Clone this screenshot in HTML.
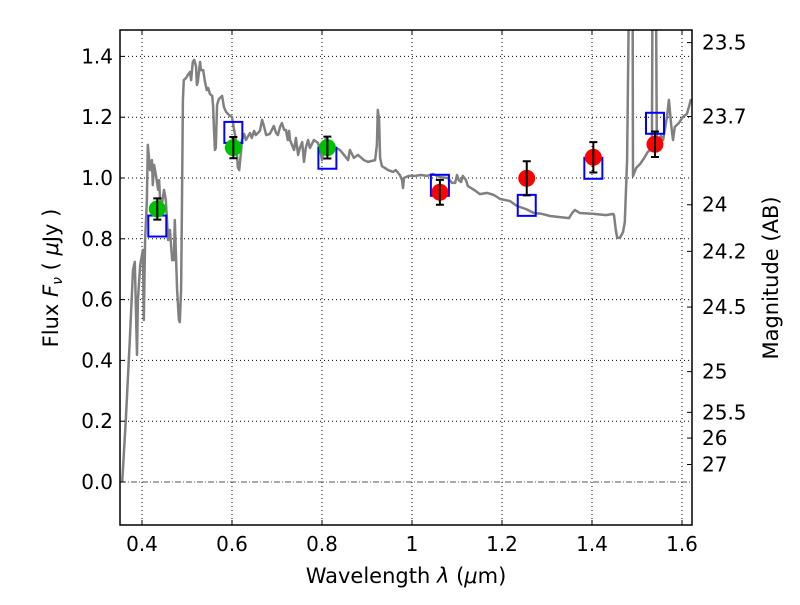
<!DOCTYPE html>
<html><head><meta charset="utf-8"><style>
body{margin:0;background:#fff;}
svg text{font-family:"DejaVu Sans","Liberation Sans",sans-serif;}
</style></head><body>
<svg id="chart" width="800" height="600" xmlns="http://www.w3.org/2000/svg">
<rect width="800" height="600" fill="#fff"/>
<g id="grid"></g>
<g id="plot"></g>
<g id="axes"></g>
<text x="406" y="583" font-size="21" text-anchor="middle">Wavelength  <tspan font-style="italic">λ</tspan> (<tspan font-style="italic">μ</tspan>m)</text>
<text transform="translate(58,278) rotate(-90)" font-size="21" text-anchor="middle">Flux  <tspan font-style="italic">F<tspan font-size="14" dy="4">ν</tspan></tspan><tspan dy="-4">  ( <tspan font-style="italic">μ</tspan>Jy )</tspan></text>
<text transform="translate(778,278) rotate(-90)" font-size="21" text-anchor="middle">Magnitude (AB)</text>
</svg>
<script>
const specW=[0.356,0.364,0.373,0.380,0.384,0.389,0.391,0.396,0.402,0.404,0.407,0.411,0.413,0.418,0.422,0.424,0.427,0.431,0.436,0.438,0.442,0.444,0.449,0.453,0.458,0.462,0.467,0.471,0.473,0.478,0.482,0.484,0.487,0.489,0.491,0.493,0.498,0.502,0.507,0.509,0.513,0.516,0.520,0.522,0.524,0.529,0.531,0.536,0.540,0.544,0.547,0.551,0.556,0.558,0.560,0.562,0.564,0.567,0.571,0.578,0.582,0.587,0.596,0.600,0.604,0.609,0.613,0.616,0.620,0.622,0.627,0.631,0.640,0.644,0.649,0.653,0.662,0.667,0.671,0.676,0.684,0.693,0.698,0.702,0.707,0.711,0.716,0.720,0.724,0.727,0.729,0.738,0.742,0.747,0.751,0.756,0.760,0.764,0.769,0.773,0.782,0.791,0.796,0.800,0.804,0.809,0.813,0.822,0.831,0.840,0.849,0.858,0.862,0.871,0.880,0.893,0.902,0.918,0.922,0.924,0.927,0.929,0.933,0.947,0.958,0.964,0.973,0.978,0.980,0.982,0.993,1.007,1.020,1.033,1.047,1.062,1.080,1.089,1.096,1.100,1.104,1.109,1.113,1.120,1.124,1.138,1.151,1.167,1.182,1.196,1.218,1.233,1.253,1.271,1.289,1.307,1.324,1.349,1.356,1.362,1.373,1.404,1.431,1.447,1.449,1.453,1.456,1.462,1.469,1.473,1.478,1.480,1.482,1.484,1.489,1.491,1.498,1.507,1.516,1.524,1.529,1.533,1.536,1.540,1.544,1.549,1.553,1.558,1.567,1.571,1.576,1.580,1.584,1.593,1.602,1.611,1.616,1.620];
const specF=[0.00,0.204,0.467,0.697,0.724,0.418,0.599,0.714,0.763,0.533,0.796,0.928,1.109,1.026,1.059,0.977,1.043,1.010,0.961,0.993,0.878,0.911,0.961,0.928,0.796,0.829,0.730,0.730,0.862,0.632,0.533,0.526,0.632,0.928,1.257,1.322,1.329,1.339,1.349,1.322,1.382,1.388,1.368,1.306,1.316,1.382,1.355,1.355,1.316,1.289,1.296,1.276,1.270,1.237,1.158,1.092,1.099,1.241,1.260,1.270,1.234,1.217,1.204,1.201,1.164,1.125,1.036,1.026,1.086,1.125,1.145,1.125,1.148,1.132,1.155,1.141,1.155,1.191,1.171,1.141,1.145,1.171,1.148,1.141,1.168,1.181,1.158,1.158,1.125,1.155,1.125,1.092,1.132,1.076,1.099,1.118,1.053,1.099,1.125,1.099,1.125,1.115,1.092,1.059,1.092,1.135,1.076,1.099,1.099,1.092,1.076,1.059,1.092,1.066,1.076,1.059,1.053,1.059,1.109,1.224,1.191,1.066,1.039,1.026,1.020,1.026,1.010,0.993,0.967,1.000,1.007,1.007,1.010,1.007,1.013,1.003,1.000,0.984,0.984,1.010,0.993,0.987,1.007,0.993,0.974,0.961,0.947,0.951,0.944,0.931,0.924,0.908,0.898,0.885,0.882,0.875,0.872,0.868,0.885,0.895,0.885,0.882,0.878,0.882,0.878,0.829,0.803,0.803,0.822,0.855,1.059,1.322,1.586,2.5,2.5,1.006,1.033,1.046,1.066,1.086,1.092,1.102,2.2,2.2,1.12,1.132,1.138,1.125,1.204,1.257,1.174,1.125,1.168,1.181,1.201,1.211,1.237,1.260];
const obsW=[0.434,0.603,0.812,1.062,1.255,1.403,1.540];
const obsF=[0.898,1.100,1.100,0.953,0.999,1.068,1.111];
const obsErr=[0.035,0.035,0.036,0.041,0.056,0.050,0.042];
const obsColor=["#00c000","#00c000","#00c000","#ff0000","#ff0000","#ff0000","#ff0000"];
const modelF=[0.842,1.150,1.065,0.976,0.910,1.032,1.180];
const xTicks=[0.4,0.6,0.8,1.0,1.2,1.4,1.6];
const xTickLabels=["0.4","0.6","0.8","1","1.2","1.4","1.6"];
const yTicks=[0,0.2,0.4,0.6,0.8,1.0,1.2,1.4];
const yTickLabels=["0.0","0.2","0.4","0.6","0.8","1.0","1.2","1.4"];
const magTicks=[23.5,23.7,24,24.2,24.5,25,25.5,26,27];
const magLabels=["23.5","23.7","24","24.2","24.5","25","25.5","26","27"];

const L=120,R=692,T=30,B=525;
const xs=w=>142+(w-0.4)*450;
const ys=f=>482-f*304;
const NS="http://www.w3.org/2000/svg";
function mk(tag,attrs,parent){const e=document.createElementNS(NS,tag);for(const k in attrs)e.setAttribute(k,attrs[k]);parent.appendChild(e);return e;}
const grid=document.getElementById('grid'),plot=document.getElementById('plot'),axes=document.getElementById('axes');
const defs=mk('defs',{},document.getElementById('chart'));
const cp=mk('clipPath',{id:'clip'},defs);mk('rect',{x:L,y:T,width:R-L,height:B-T},cp);
plot.setAttribute('clip-path','url(#clip)');
xTicks.forEach((t,i)=>{
  const x=xs(t);
  const g=mk('line',{x1:x,x2:x,y1:T,y2:B,stroke:'#000','stroke-width':1,'stroke-dasharray':'1,3'},grid);
  
  
  mk('line',{x1:x,x2:x,y1:B,y2:B-5,stroke:'#000'},axes);
  mk('line',{x1:x,x2:x,y1:T,y2:T+5,stroke:'#000'},axes);
  const tx=mk('text',{x:x,y:B+26,'font-size':20,'text-anchor':'middle'},axes);
  tx.textContent=xTickLabels[i];
  
  
});
yTicks.forEach((t,i)=>{
  const y=ys(t);
  if(t!==0){const g=mk('line',{x1:L,x2:R,y1:y,y2:y,stroke:'#000','stroke-width':1,'stroke-dasharray':'1,3'},grid);
  
  }
  mk('line',{x1:L,x2:L+5,y1:y,y2:y,stroke:'#000'},axes);
  const tx=mk('text',{x:L-7,y:y+7,'font-size':20,'text-anchor':'end'},axes);
  tx.textContent=yTickLabels[i];
  
  
});
const zl=mk('line',{x1:L,x2:R,y1:ys(0),y2:ys(0),stroke:'#555','stroke-width':1,'stroke-dasharray':'6,2,1,2'},grid);


magTicks.forEach((m,i)=>{
  const y=ys(Math.pow(10,(23.9-m)/2.5));
  mk('line',{x1:R-5,x2:R,y1:y,y2:y,stroke:'#000'},axes);
  const tx=mk('text',{x:R+10,y:y+7,'font-size':20},axes);
  tx.textContent=magLabels[i];
  
  
});
let d='';specW.forEach((w,i)=>{d+=(i?'L':'M')+xs(w).toFixed(1)+','+ys(specF[i]).toFixed(1);});
const sp=mk('path',{d:d,fill:'none',stroke:'#808080','stroke-width':2.5,'stroke-linejoin':'round'},plot);


obsW.forEach((w,i)=>{
  const x=xs(w);
  const b=mk('rect',{x:x-9,y:ys(modelF[i])-10.5,width:18,height:21,fill:'none',stroke:'#0000ff','stroke-width':2},plot);
  
  
});
obsW.forEach((w,i)=>{
  const x=xs(w),y=ys(obsF[i]);
  const c=mk('circle',{cx:x,cy:y,r:8.5,fill:obsColor[i]},plot);
  
  
  const y1=ys(obsF[i]+obsErr[i]),y2=ys(obsF[i]-obsErr[i]);
  const eb=mk('path',{d:`M${x},${y1}L${x},${y2}M${x-4},${y1}L${x+4},${y1}M${x-4},${y2}L${x+4},${y2}`,stroke:'#000','stroke-width':2,fill:'none'},plot);
  
  
});
const fr=mk('rect',{x:L,y:T,width:R-L,height:B-T,fill:'none',stroke:'#000','stroke-width':1.5},axes);


</script>
</body></html>
